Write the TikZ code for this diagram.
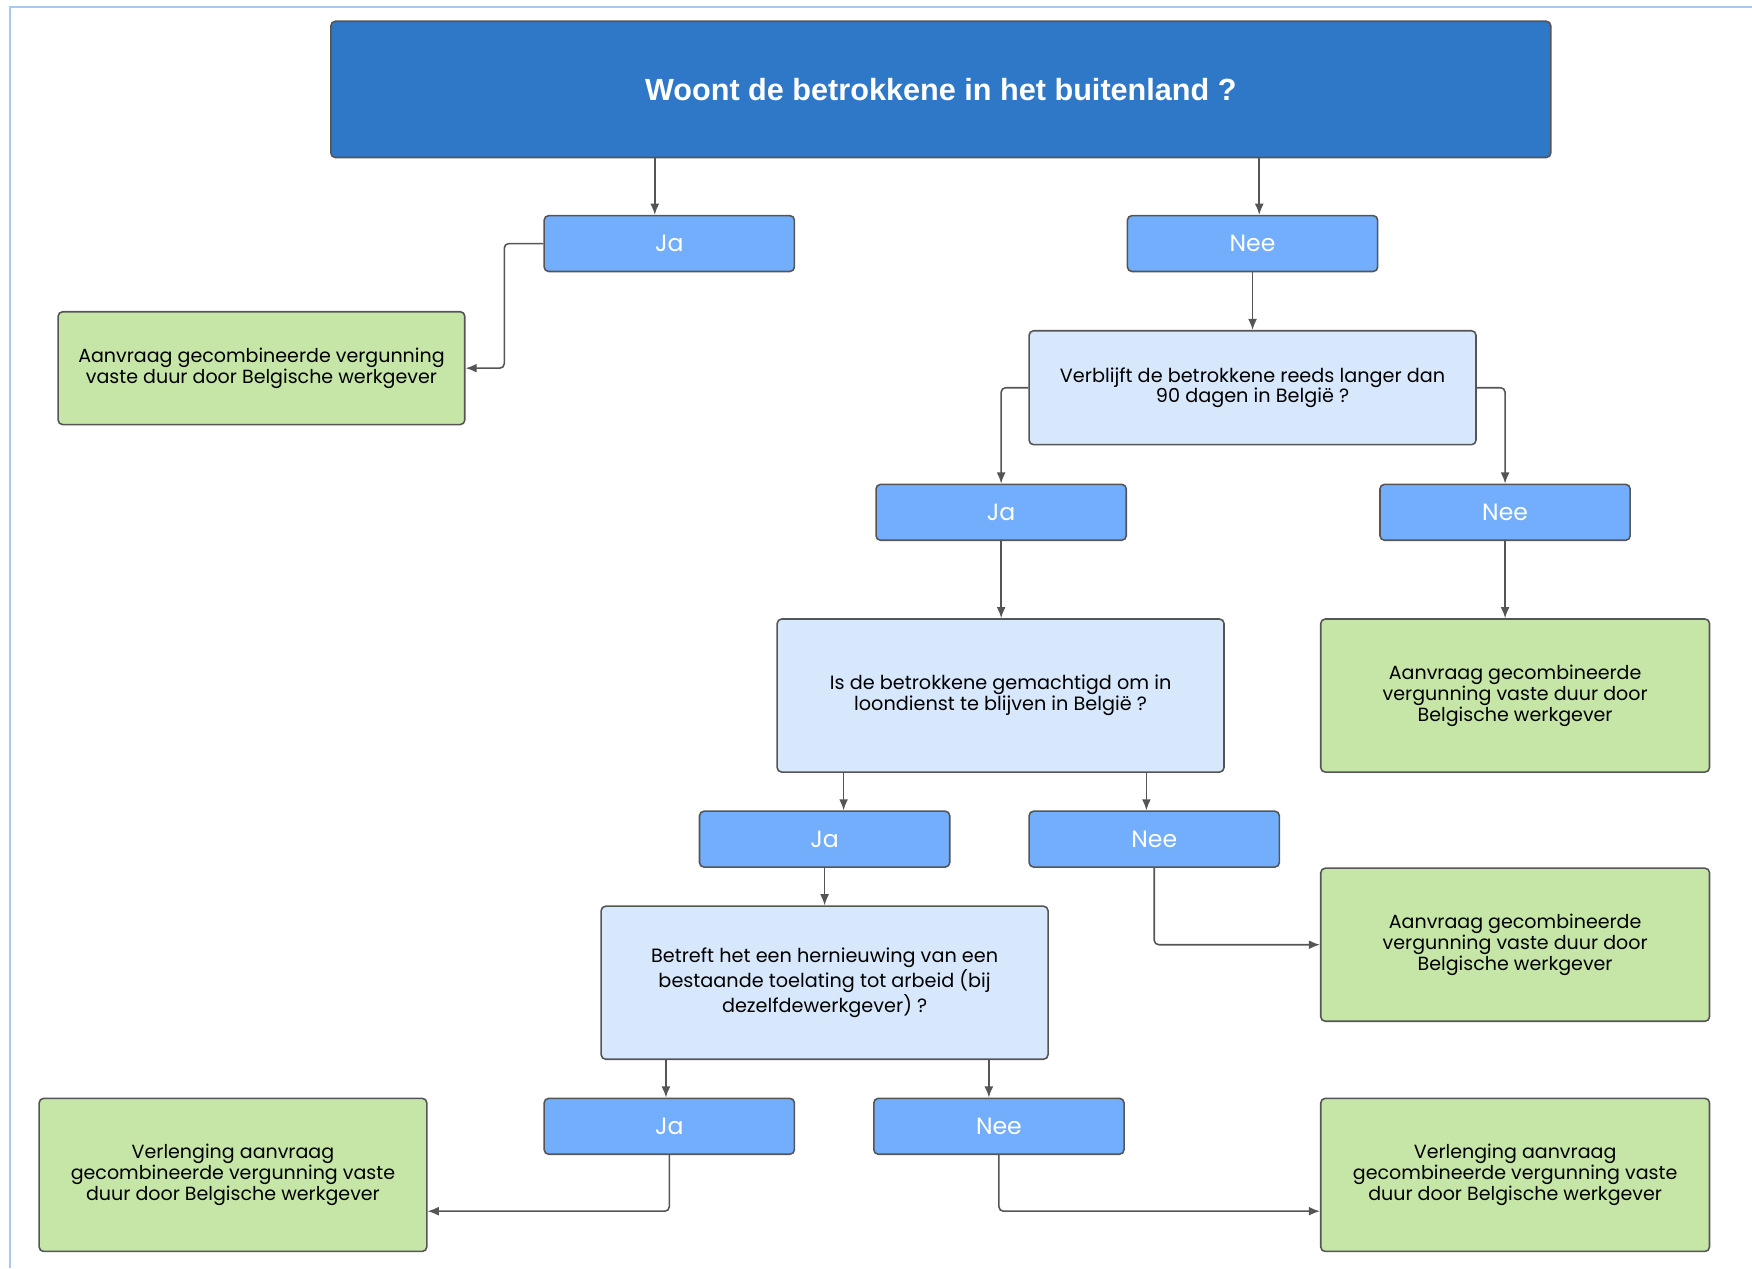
\documentclass[tikz,border=0pt]{standalone}
\usepackage{fontspec}
\setmainfont{Poppins}
\newfontfamily\titlefont{Liberation Sans}
\usetikzlibrary{arrows.meta}

\definecolor{darkblue}{HTML}{2F78C8}
\definecolor{midblue}{HTML}{72AEFC}
\definecolor{paleblue}{HTML}{D7E8FD}
\definecolor{palegreen}{HTML}{C6E6A8}
\definecolor{linegray}{HTML}{555555}
\definecolor{frameblue}{HTML}{A9C8EC}

\begin{document}
\begin{tikzpicture}[x=0.02cm, y=-0.02cm,
    box/.style={draw=linegray, line width=0.8pt, rounded corners=0.08cm, align=center, inner sep=0pt},
    answer/.style={box, fill=midblue, text=white, minimum width=4.48cm, minimum height=1cm, font=\fontsize{12}{14}\selectfont},
    question/.style={box, fill=paleblue, minimum width=8cm, font=\fontsize{9.8}{10.6}\selectfont},
    result/.style={box, fill=palegreen, minimum width=6.96cm, minimum height=2.74cm, font=\fontsize{9.7}{10.6}\selectfont},
    link/.style={draw=linegray, line width=0.8pt, rounded corners=0.08cm, -{Latex[length=2mm, width=1.6mm]}}]
    \useasboundingbox (0, 0) rectangle (1568, 1135);
    \draw[frameblue, line width=1pt] (9, 1135) -- (9, 6) -- (1568, 6);

    % 1. questions
    \node[box, fill=darkblue, text=white, minimum width=21.84cm, minimum height=2.44cm,
      font=\titlefont\bfseries\fontsize{15.6}{18}\selectfont] (title) at (842, 80) {Woont de betrokkene in het buitenland ?};
    \node[question, minimum height=2.04cm] (q2) at (1121, 347) {Verblijft de betrokkene reeds langer dan\\90 dagen in België ?};
    \node[question, minimum height=2.74cm] (q3) at (895.5, 622.5) {Is de betrokkene gemachtigd om in\\loondienst te blijven in België ?};
    \node[question, minimum height=2.74cm] (q4) at (738, 879.5) {Betreft het een hernieuwing van een\\bestaande toelating tot arbeid (bij\\dezelfdewerkgever) ?};

    % 2. answers
    \node[answer] (ja1) at (599, 218) {Ja};
    \node[answer] (nee1) at (1121, 218) {Nee};
    \node[answer] (ja2) at (896, 458.5) {Ja};
    \node[answer] (nee2) at (1347, 458.5) {Nee};
    \node[answer] (ja3) at (738, 751) {Ja};
    \node[answer] (nee3) at (1033, 751) {Nee};
    \node[answer] (ja4) at (599, 1008) {Ja};
    \node[answer] (nee4) at (894, 1008) {Nee};

    % 3. results
    \node[result, minimum width=7.28cm, minimum height=2.02cm] (res1) at (234, 329.5) {Aanvraag gecombineerde vergunning\\vaste duur door Belgische werkgever};
    \node[result] (res2) at (1356, 622.5) {Aanvraag gecombineerde\\vergunning vaste duur door\\Belgische werkgever};
    \node[result] (res3) at (1356, 845.5) {Aanvraag gecombineerde\\vergunning vaste duur door\\Belgische werkgever};
    \node[result, minimum width=6.94cm] (res4) at (208.5, 1051.5) {Verlenging aanvraag\\gecombineerde vergunning vaste\\duur door Belgische werkgever};
    \node[result] (res5) at (1356, 1051.5) {Verlenging aanvraag\\gecombineerde vergunning vaste\\duur door Belgische werkgever};

    % other things
    \draw[link] ([xshift=-0.26cm]ja1.north |- title.south) -- ([xshift=-0.26cm]ja1.north);
    \draw[link] ([xshift=0.12cm]nee1.north |- title.south) -- ([xshift=0.12cm]nee1.north);
    \draw[link] (ja1.west) -- ++(-35, 0) |- (res1.east);
    \draw[link] (nee1.south) -- (q2.north);
    \draw[link] (q2.west) -| (ja2.north);
    \draw[link] (q2.east) -| (nee2.north);
    \draw[link] (ja2.south) -- (ja2.south |- q3.north);
    \draw[link] (nee2.south) -- (nee2.south |- res2.north);
    \draw[link] ([xshift=0.34cm]ja3.north |- q3.south) -- ([xshift=0.34cm]ja3.north);
    \draw[link] ([xshift=-0.14cm]nee3.north |- q3.south) -- ([xshift=-0.14cm]nee3.north);
    \draw[link] (ja3.south) -- (q4.north);
    \draw[link] (nee3.south) |- (res3.west);
    \draw[link] ([xshift=-0.06cm]ja4.north |- q4.south) -- ([xshift=-0.06cm]ja4.north);
    \draw[link] ([xshift=-0.18cm]nee4.north |- q4.south) -- ([xshift=-0.18cm]nee4.north);
    \draw[link] (ja4.south) |- ([yshift=-0.65cm]res4.east);
    \draw[link] (nee4.south) |- ([yshift=-0.65cm]res5.west);
  \end{tikzpicture}
\end{document}
